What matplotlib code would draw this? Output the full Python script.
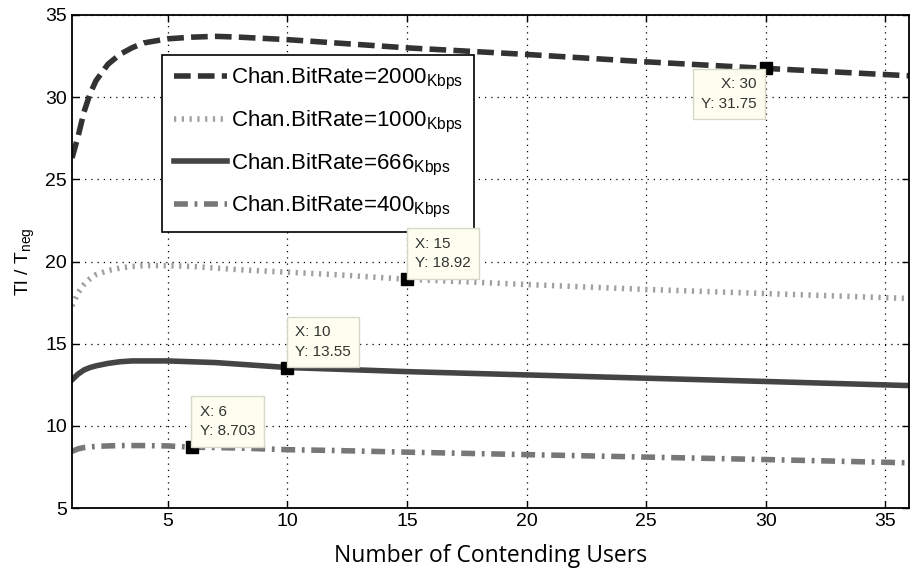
import matplotlib.pyplot as plt
import numpy as np

plt.rcParams['font.family'] = 'Liberation Sans'
plt.rcParams['mathtext.fontset'] = 'custom'
plt.rcParams['mathtext.rm'] = 'Liberation Sans'
plt.rcParams['mathtext.it'] = 'Liberation Sans'

users = [1, 1.25, 1.5, 1.75, 2, 2.5, 3, 3.5, 4, 5, 6, 7, 8, 10, 12, 15, 20, 25, 30, 36]

rate_2000 = [26.3, 27.6, 29.1, 30.2, 31.0, 32.0, 32.6, 33.0, 33.3, 33.55, 33.65, 33.7,
             33.65, 33.5, 33.3, 33.0, 32.6, 32.15, 31.75, 31.3]
rate_1000 = [17.3, 18.1, 18.6, 18.95, 19.2, 19.45, 19.6, 19.7, 19.75, 19.75, 19.7, 19.6,
             19.5, 19.35, 19.2, 18.92, 18.6, 18.3, 18.05, 17.75]
rate_666 = [12.8, 13.15, 13.4, 13.55, 13.65, 13.8, 13.9, 13.95, 13.95, 13.95, 13.9, 13.85,
            13.75, 13.55, 13.45, 13.3, 13.1, 12.9, 12.7, 12.45]
rate_400 = [8.45, 8.6, 8.68, 8.72, 8.75, 8.78, 8.8, 8.8, 8.8, 8.78, 8.703, 8.68,
            8.65, 8.55, 8.5, 8.4, 8.25, 8.1, 7.95, 7.75]

# data tips: (x, y, label)
tips = [(30, 31.75, 'X: 30\nY: 31.75'),
        (15, 18.92, 'X: 15\nY: 18.92'),
        (10, 13.55, 'X: 10\nY: 13.55'),
        (6, 8.703, 'X: 6\nY: 8.703')]

fig = plt.figure(figsize=(9.12, 5.76), dpi=100)
ax = fig.add_axes([0.079, 0.118, 0.918, 0.856])

ax.plot(users, rate_2000, color='#333333', lw=4, linestyle=(0, (3, 1.3)),
        label=r'Chan.BitRate=2000$_{\mathrm{Kbps}}$')
ax.plot(users, rate_1000, color='#a0a0a0', lw=4, linestyle=(0, (0.4, 1.0)),
        label=r'Chan.BitRate=1000$_{\mathrm{Kbps}}$')
ax.plot(users, rate_666, color='#444444', lw=4, linestyle='-',
        label=r'Chan.BitRate=666$_{\mathrm{Kbps}}$')
ax.plot(users, rate_400, color='#777777', lw=4, linestyle=(0, (2.5, 1.2, 0.5, 1.2)),
        label=r'Chan.BitRate=400$_{\mathrm{Kbps}}$')

for x, y, txt in tips:
    ax.plot(x, y, 's', color='black', ms=8, zorder=5)
    if x == 30:
        off, ha, va = (-9, -9), 'right', 'top'
    else:
        off, ha, va = (8, 9), 'left', 'bottom'
    ax.annotate(txt, (x, y), xytext=off, textcoords='offset pixels',
                ha=ha, va=va, fontsize=11, color='#333333', linespacing=1.5,
                bbox=dict(boxstyle='square,pad=0.55', fc='#fefef0', ec='#d8d8c8', lw=1),
                zorder=6)

ax.set_xlim(1, 36)
ax.set_ylim(5, 35)
ax.set_xticks([5, 10, 15, 20, 25, 30, 35])
ax.set_yticks([5, 10, 15, 20, 25, 30, 35])
ax.grid(True, color='black', linestyle=(0, (1, 4)), lw=0.9)
ax.tick_params(direction='in', length=5, width=1, labelsize=14, top=True, right=True)
for s in ax.spines.values():
    s.set_linewidth(1.3)

ax.set_xlabel('Number of Contending Users', fontsize=16.5, family='Open Sans', labelpad=10)
ax.set_ylabel(r'Tl / T$_{\mathrm{neg}}$', fontsize=14, labelpad=6)

leg = ax.legend(loc='upper left', bbox_to_anchor=(0.108, 0.919), fontsize=16,
                handlelength=2.4, handletextpad=0.2, labelspacing=0.75,
                borderpad=0.5, borderaxespad=0, fancybox=False, framealpha=1,
                edgecolor='black')
leg.get_frame().set_linewidth(1.2)

fig.savefig('out.png', dpi=100)
